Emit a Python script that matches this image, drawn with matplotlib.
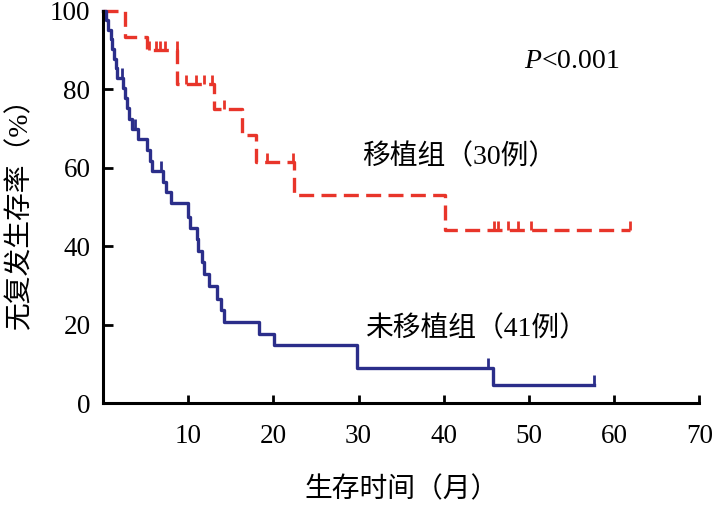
import matplotlib
matplotlib.use("Agg")
import numpy as np
import matplotlib.pyplot as plt

plt.rcParams['font.family'] = ['Liberation Serif', 'Noto Sans CJK SC', 'DejaVu Sans']
plt.rcParams['mathtext.fontset'] = 'custom'
plt.rcParams['mathtext.it'] = 'Liberation Serif:italic'
plt.rcParams['mathtext.rm'] = 'Liberation Serif'

# transplant group (30 cases), red dashed
red_t = [0, 2.6, 5.2, 8.7, 13.0, 16.3, 18.0, 22.4, 40.1, 61.9]
red_s = [100, 93.3, 90.0, 81.3, 75.0, 68.4, 61.4, 53.0, 44.2, 44.2]
red_cens_t = [5.4, 6.2, 6.7, 7.3, 8.7, 9.8, 10.9, 11.9, 12.8, 14.2, 19.2, 22.3,
              45.9, 46.4, 47.6, 48.7, 50.2, 61.9]
red_cens_s = [90.0, 90.0, 90.0, 90.0, 90.0, 81.3, 81.3, 81.3, 81.3, 75.0, 61.4, 61.4,
              44.2, 44.2, 44.2, 44.2, 44.2, 44.2]

# non-transplant group (41 cases), blue solid
blue_t = [0, 0.4, 0.6, 0.9, 1.1, 1.3, 1.5, 1.7, 2.4, 2.6, 2.8, 3.1, 3.4, 4.1,
          5.2, 5.5, 5.7, 7.0, 7.4, 8.0, 10.0, 10.2, 11.0, 11.2, 11.6, 11.9,
          12.4, 13.4, 13.8, 14.2, 18.3, 20.1, 29.8, 45.8, 57.6]
blue_s = [100, 97.6, 95.1, 92.7, 90.2, 87.8, 85.4, 82.9, 80.3, 77.7, 75.1, 72.5,
          69.9, 67.2, 64.5, 61.8, 59.1, 56.4, 53.7, 50.9, 47.5, 44.6, 41.7, 38.8,
          35.9, 33.0, 29.8, 26.6, 23.6, 20.6, 17.7, 14.8, 8.9, 4.5, 4.5]
blue_cens_t = [2.2, 3.8, 6.8, 45.2, 57.6]
blue_cens_s = [82.9, 69.9, 59.1, 8.9, 4.5]

red = '#e8352a'
blue = '#2b2e8a'

fig = plt.figure(figsize=(7.15, 5.07), dpi=100)
ax = fig.add_axes([0.144, 0.205, 0.834, 0.774])

ax.plot(red_t, red_s, drawstyle='steps-post', color=red, lw=2.4,
        dashes=(4.5, 2.2), clip_on=False)
ax.vlines(red_cens_t, red_cens_s, np.array(red_cens_s) + 2.3, color=red, lw=2.0,
          clip_on=False)
ax.plot(blue_t, blue_s, drawstyle='steps-post', color=blue, lw=2.4, clip_on=False)
ax.vlines(blue_cens_t, blue_cens_s, np.array(blue_cens_s) + 2.6, color=blue, lw=2.0,
          clip_on=False)

ax.set_xlim(0, 70)
ax.set_ylim(0, 100)
ax.set_xticks([10, 20, 30, 40, 50, 60, 70])
ax.set_yticks([0, 20, 40, 60, 80, 100])
for s in ['top', 'right']:
    ax.spines[s].set_visible(False)
for s in ['left', 'bottom']:
    ax.spines[s].set_linewidth(2.2)
ax.tick_params(axis='y', direction='in', length=7, width=2, pad=9, labelsize=19.5)
ax.tick_params(axis='x', direction='in', length=6, width=2, pad=15, labelsize=19.5)

ax.set_xlabel('生存时间（月）', fontsize=20, labelpad=20)
ax.set_ylabel('无复发生存率（%）', fontsize=20, labelpad=12)

ax.text(30.4, 62.6, '移植组（30例）', fontsize=20, va='center')
ax.text(30.8, 18.9, '未移植组（41例）', fontsize=20, va='center')
ax.text(49.4, 87.0, r'$P$<0.001', fontsize=20, va='center')

fig.savefig('out.png', dpi=100)
